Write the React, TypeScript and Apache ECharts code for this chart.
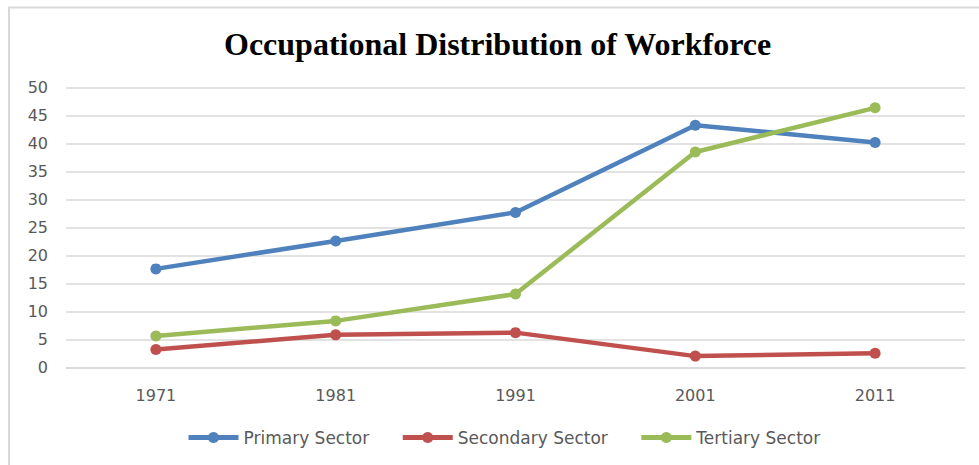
import React, { useEffect, useRef } from "react";
import * as echarts from "echarts";

const years = ["1971", "1981", "1991", "2001", "2011"];
const primarySector = [17.6, 22.6, 27.7, 43.3, 40.2];
const secondarySector = [3.2, 5.8, 6.2, 2.0, 2.5];
const tertiarySector = [5.6, 8.3, 13.1, 38.5, 46.4];
const seriesNames = ["Primary Sector", "Secondary Sector", "Tertiary Sector"];
const seriesColors = ["#4f81bd", "#c0504d", "#9bbb59"];

const labelFont = "DejaVu Sans";

export default function App() {
  const ref = useRef<HTMLDivElement>(null);
  useEffect(() => {
    document.body.style.margin = "0";
    const chart = echarts.init(ref.current!, null, { renderer: "svg" });
    const values = [primarySector, secondarySector, tertiarySector];
    chart.setOption({
      animation: false,
      backgroundColor: "#ffffff",
      title: {
        text: "Occupational Distribution of Workforce",
        left: 219,
        top: 23,
        textStyle: {
          fontFamily: "Liberation Serif",
          fontWeight: "bold",
          fontSize: 32,
          color: "#000000",
        },
      },
      graphic: [
        {
          type: "line",
          shape: { x1: 8, y1: 7.5, x2: 979, y2: 7.5 },
          style: { stroke: "#d9d9d9", lineWidth: 2 },
          silent: true,
        },
        {
          type: "line",
          shape: { x1: 9, y1: 7, x2: 9, y2: 465 },
          style: { stroke: "#d9d9d9", lineWidth: 2 },
          silent: true,
        },
      ],
      legend: {
        top: 424,
        left: 181,
        itemWidth: 50,
        itemHeight: 14,
        itemGap: 31,
        lineStyle: { width: 5 },
        textStyle: { fontFamily: labelFont, fontSize: 17, color: "#595959" },
        data: seriesNames,
      },
      grid: { left: 66, right: 14, top: 87.7, bottom: 97.7 },
      xAxis: {
        type: "category",
        data: years,
        boundaryGap: true,
        axisLine: { show: true, lineStyle: { color: "#d9d9d9", width: 1.5 } },
        axisTick: { show: false },
        axisLabel: { fontFamily: labelFont, fontSize: 16, color: "#595959", margin: 20 },
      },
      yAxis: {
        type: "value",
        min: 0,
        max: 50,
        interval: 5,
        axisLine: { show: false },
        axisTick: { show: false },
        splitLine: { lineStyle: { color: "#d9d9d9", width: 1.5 } },
        axisLabel: { fontFamily: labelFont, fontSize: 16, color: "#595959", margin: 18 },
      },
      series: values.map((v, i) => ({
        name: seriesNames[i],
        type: "line",
        data: v,
        symbol: "circle",
        symbolSize: 11,
        itemStyle: { color: seriesColors[i] },
        lineStyle: { color: seriesColors[i], width: 4.5 },
      })),
    });
    return () => chart.dispose();
  }, []);
  return <div ref={ref} style={{ width: 979, height: 465 }} />;
}
